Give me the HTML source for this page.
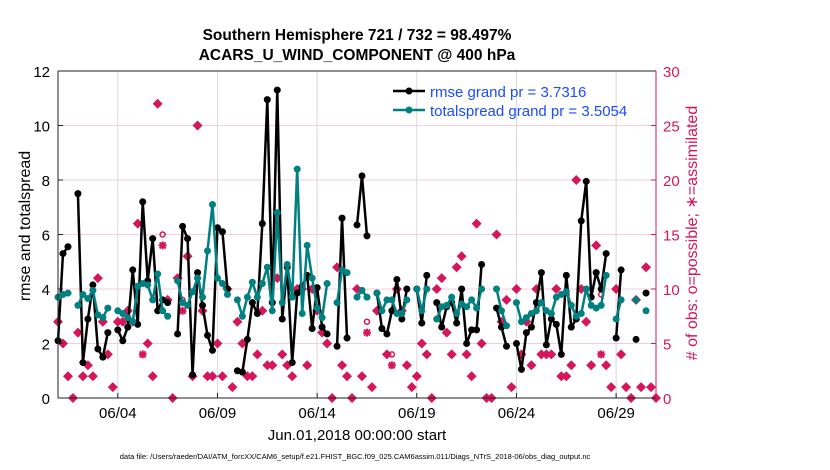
<!DOCTYPE html>
<html><head><meta charset="utf-8"><style>
body{margin:0;background:#fff;}
svg{display:block;font-family:"Liberation Sans",sans-serif;}
</style></head><body>
<svg id="chart" width="830" height="470">
<g id="grid"></g>
<g id="marks"></g>
<g id="axes"></g>
<text x="357" y="40" text-anchor="middle" font-size="15.5" font-weight="bold">Southern Hemisphere 721 / 732 = 98.497%</text>
<text x="357" y="60" text-anchor="middle" font-size="15.5" font-weight="bold">ACARS_U_WIND_COMPONENT @ 400 hPa</text>
<text transform="translate(30,226) rotate(-90)" text-anchor="middle" font-size="16">rmse and totalspread</text>
<text transform="translate(697,233) rotate(-90)" text-anchor="middle" font-size="16" fill="#d6155a"># of obs: o=possible; ∗=assimilated</text>
<text x="357" y="440" text-anchor="middle" font-size="15">Jun.01,2018 00:00:00 start</text>
<text x="355" y="459" text-anchor="middle" font-size="7.5">data file: /Users/raeder/DAI/ATM_forcXX/CAM6_setup/f.e21.FHIST_BGC.f09_025.CAM6assim.011/Diags_NTrS_2018-06/obs_diag_output.nc</text>
<g>
<line x1="393" y1="91" x2="425" y2="91" stroke="#000" stroke-width="2.5"/><circle cx="409" cy="91" r="3.5" fill="#000"/>
<text x="430" y="97" font-size="15" fill="#1a4dff">rmse grand pr = 3.7316</text>
<line x1="393" y1="110" x2="425" y2="110" stroke="#008080" stroke-width="2.5"/><circle cx="409" cy="110" r="3.5" fill="#008080"/>
<text x="430" y="116" font-size="15" fill="#1a4dff">totalspread grand pr = 3.5054</text>
</g>
</svg>
<script>
const N = null;
const rmse = [2.1,5.3,5.55,N,7.5,1.3,2.9,4.15,1.8,1.5,2.4,N,2.5,2.1,2.6,4.7,2.7,7.2,4.3,5.85,3.2,3.6,3.5,N,2.35,6.3,5.85,0.85,4.6,3.4,2.3,1.75,6.25,6.1,4.0,N,1.0,0.95,2.15,3.5,3.1,6.4,10.95,3.5,11.3,2.9,4.8,1.3,3.85,4.1,4.5,2.55,4.05,2.6,2.35,N,1.9,6.6,2.2,N,6.35,8.15,5.95,N,3.85,2.55,2.35,3.2,4.35,2.9,4.0,N,4.0,2.75,4.5,N,3.5,2.6,3.35,3.5,2.75,4.0,2.0,2.5,2.5,4.9,N,N,3.3,2.6,1.9,N,2.0,1.05,2.4,2.6,3.5,4.6,1.95,2.9,2.7,1.6,4.5,2.6,2.9,6.5,7.95,3.7,4.6,4.0,5.3,N,2.2,4.7,N,N,2.15,N,3.85,N,N];
const spread = [3.7,3.8,3.85,N,3.4,3.8,3.65,3.95,3.05,2.95,3.3,N,3.2,3.1,2.95,2.8,4.1,4.2,4.15,3.6,4.55,3.2,3.0,N,4.3,3.5,3.4,3.9,4.4,3.7,5.4,7.1,4.4,4.2,3.8,N,3.6,3.0,3.7,4.25,3.7,4.2,4.8,3.2,6.8,3.5,4.9,3.7,8.4,3.1,5.6,4.4,3.3,2.95,4.2,N,3.5,4.7,4.6,N,3.7,3.95,3.7,N,3.85,3.2,3.6,3.6,3.1,3.1,3.6,N,4.0,3.2,4.0,N,2.9,3.35,3.4,3.7,3.1,3.45,3.35,3.6,3.3,4.0,N,N,4.0,3.2,2.65,N,3.5,2.8,2.95,3.1,3.2,3.5,3.2,3.1,3.7,3.8,3.9,3.4,3.0,3.1,4.0,3.4,3.3,3.4,4.5,N,2.9,3.6,N,N,3.6,N,3.2,N,N];
const nUsed = [7,5,2,0,6,2,3,2,11,7,4,1,7,7,8,7,16,4,5,2,27,14,9,0,11,8,13,2,25,8,2,2,5,2,10,1,7,5,2,2,4,8,3,3,11,4,3,2,10,10,3,10,8,6,5,0,12,3,2,0,10,2,6,1,8,N,4,3,10,8,3,1,2,5,4,0,10,11,6,4,12,13,4,2,16,5,0,0,15,7,9,1,10,4,7,3,10,4,4,4,10,2,2,3,20,10,7,3,14,4,3,1,10,4,1,0,9,1,12,1,0];
const asteriskIdx = [17,21,25,62,67,109];
const possIdx = [18,21,25,62,67,109];
const possVals = [5,15,9,7,4,9.5];
const leftTicks = [0,2,4,6,8,10,12];
const rightTicks = [0,5,10,15,20,25,30];
const xTickDays = [3,8,13,18,23,28];
const xTickLabels = ['06/04','06/09','06/14','06/19','06/24','06/29'];

const X0=58, X1=656, Y0=398, Y1=71;
const xs = d => X0 + d/30*(X1-X0);
const yl = v => Y0 - v/12*(Y0-Y1);
const yr = v => Y0 - v/30*(Y0-Y1);
const NS='http://www.w3.org/2000/svg';
function mk(tag, parent, attrs){const e=document.createElementNS(NS,tag);for(const k in attrs)e.setAttribute(k,attrs[k]);parent.appendChild(e);return e;}
const grid=document.getElementById('grid'), marks=document.getElementById('marks'), axes=document.getElementById('axes');

xTickDays.forEach((d,i)=>{
  const g=mk('line',grid,{x1:xs(d),x2:xs(d),y1:Y1,y2:Y0,stroke:'#d8d8d8','stroke-width':1});
  
  
  mk('line',axes,{x1:xs(d),x2:xs(d),y1:Y0,y2:Y0-5,stroke:'#222'});
  const t=mk('text',axes,{x:xs(d),y:Y0+20,'text-anchor':'middle','font-size':15});
  t.textContent=xTickLabels[i];
  
  
});
rightTicks.forEach(v=>{
  if(v>0&&v<30){const g=mk('line',grid,{x1:X0,x2:X1,y1:yr(v),y2:yr(v),stroke:'#f3cddc','stroke-width':1});
  
  }
  mk('line',axes,{x1:X1,x2:X1-5,y1:yr(v),y2:yr(v),stroke:'#d6155a'});
  const t=mk('text',axes,{x:X1+7,y:yr(v)+6,'font-size':15,fill:'#d6155a'});
  t.textContent=v;
  
  
});
leftTicks.forEach(v=>{
  mk('line',axes,{x1:X0,x2:X0+5,y1:yl(v),y2:yl(v),stroke:'#222'});
  const t=mk('text',axes,{x:X0-8,y:yl(v)+6,'font-size':15,'text-anchor':'end'});
  t.textContent=v;
  
  
});
mk('line',axes,{x1:X0,x2:X1,y1:Y1,y2:Y1,stroke:'#222'});
mk('line',axes,{x1:X0,x2:X1,y1:Y0,y2:Y0,stroke:'#222'});
mk('line',axes,{x1:X0,x2:X0,y1:Y1,y2:Y0,stroke:'#222'});
mk('line',axes,{x1:X1,x2:X1,y1:Y1,y2:Y0,stroke:'#d6155a'});

nUsed.forEach((v,i)=>{
  if(v===null)return;
  const cx=xs(i/4), cy=yr(v);
  if(asteriskIdx.includes(i)){
    const p=mk('path',marks,{d:`M${cx-4},${cy}H${cx+4}M${cx},${cy-4}V${cy+4}M${cx-3},${cy-3}L${cx+3},${cy+3}M${cx-3},${cy+3}L${cx+3},${cy-3}`,stroke:'#d6155a','stroke-width':2});
    
    
  } else {
    const p=mk('path',marks,{d:`M${cx},${cy-5}L${cx+5},${cy}L${cx},${cy+5}L${cx-5},${cy}Z`,fill:'#d6155a'});
    
    
  }
});
possIdx.forEach((k,i)=>{
  const c=mk('circle',marks,{cx:xs(k/4),cy:yr(possVals[i]),r:2.5,fill:'none',stroke:'#d6155a','stroke-width':1.5});
  
  
});

function series(arr,color,name){
  let segs=[],cur=[];
  arr.forEach((v,i)=>{ if(v===null){if(cur.length)segs.push(cur);cur=[];} else cur.push([xs(i/4),yl(v)]); });
  if(cur.length)segs.push(cur);
  segs.forEach(s=>{
    const pl=mk('polyline',marks,{points:s.map(p=>p.join(',')).join(' '),fill:'none',stroke:color,'stroke-width':2.5,'stroke-linejoin':'round'});
    
    
  });
  arr.forEach((v,i)=>{ if(v===null)return;
    const c=mk('circle',marks,{cx:xs(i/4),cy:yl(v),r:3.5,fill:color});
    
    
  });
}
series(rmse,'#000','rmse');
series(spread,'#008080','totalspread');
</script>
</body></html>
